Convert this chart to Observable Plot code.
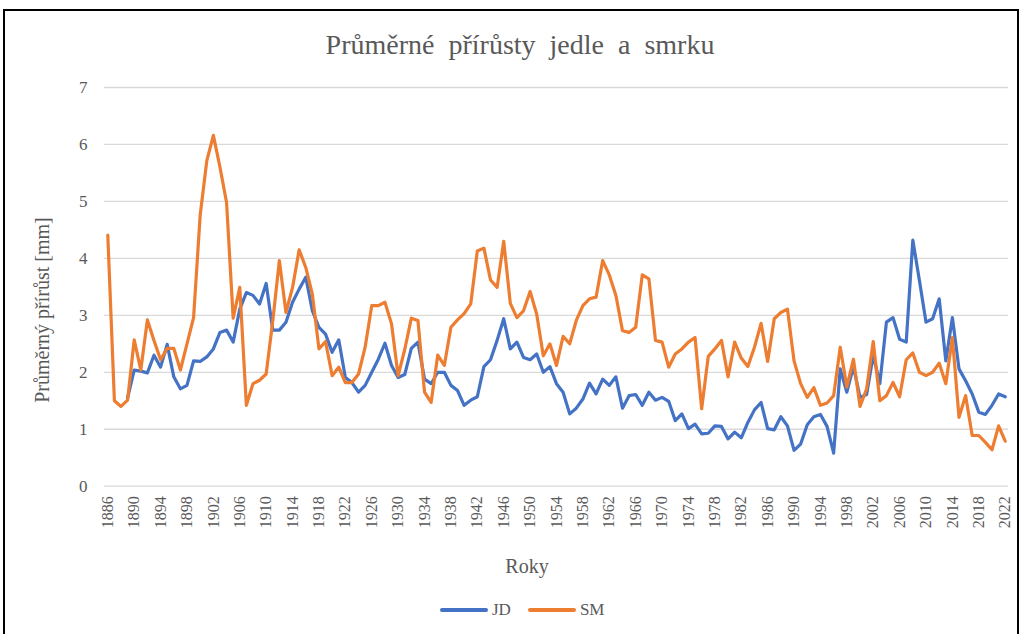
<!DOCTYPE html>
<html>
<head>
<meta charset="utf-8">
<script src="https://cdn.jsdelivr.net/npm/d3@7"></script>
<script src="https://cdn.jsdelivr.net/npm/@observablehq/plot@0.6"></script>
<style>
  html, body { margin: 0; padding: 0; background: #fff; }
  body { width: 1021px; height: 634px; overflow: hidden; position: relative;
         font-family: "Liberation Serif", "Times New Roman", serif; color: #595959; }
  #frame { position: absolute; left: 3px; top: 9px; width: 1016px; height: 700px;
           border: 2px solid #000; box-sizing: border-box; }
  #title { position: absolute; left: 0; width: 1040px; top: 28px; text-align: center;
           font-size: 28px; line-height: 34px; word-spacing: 7px; white-space: nowrap; }
  #ylabel { position: absolute; left: 42px; top: 310px; transform: translate(-50%, -50%) rotate(-90deg);
            font-size: 20px; white-space: nowrap; }
  #xlabel { position: absolute; left: 527px; top: 566px; transform: translate(-50%, -50%);
            font-size: 20px; }
  #chart { position: absolute; left: 0; top: 0; }
  #legend { position: absolute; left: 440px; top: 599px; display: flex; align-items: center;
            font-size: 17px; line-height: 22px; }
  .sw { display: inline-block; width: 48px; height: 4px; border-radius: 2px; margin-right: 4px; }
  .item { display: flex; align-items: center; margin-right: 17px; }
</style>
</head>
<body>
<div id="frame"></div>
<div id="title"></div>
<div id="ylabel"></div>
<div id="xlabel"></div>
<div id="chart"></div>
<div id="legend"></div>
<script>
// ---- data ----
const titleText = "Průměrné přírůsty jedle a smrku";
const yTitle = "Průměrný přírůst [mm]";
const xTitle = "Roky";
const series = ["JD", "SM"];
const colors = ["#4472C4", "#ED7D31"];

const years = d3.range(1886, 2023);
const xTicks = d3.range(1886, 2023, 4);
const yTicks = [0, 1, 2, 3, 4, 5, 6, 7];

// JD (jedle) 1886–2022
const jd = [
  null, null, null, 1.55,
  2.04, 2.02, 1.99, 2.30, 2.09, 2.49, 1.92, 1.71, 1.77, 2.20,   // 1890-1899
  2.19, 2.27, 2.41, 2.70, 2.74, 2.53, 3.11, 3.40, 3.35, 3.20,   // 1900-1909
  3.56, 2.74, 2.74, 2.88, 3.23, 3.46, 3.67, 3.08, 2.79, 2.67,   // 1910-1919
  2.35, 2.57, 1.91, 1.82, 1.65, 1.77, 2.00, 2.23, 2.51, 2.12,   // 1920-1929
  1.91, 1.96, 2.42, 2.53, 1.88, 1.80, 2.00, 2.00, 1.77, 1.68,   // 1930-1939
  1.42, 1.51, 1.57, 2.10, 2.22, 2.56, 2.94, 2.41, 2.53, 2.26,   // 1940-1949
  2.22, 2.32, 2.00, 2.10, 1.80, 1.65, 1.27, 1.37, 1.53, 1.81,   // 1950-1959
  1.62, 1.88, 1.77, 1.92, 1.37, 1.59, 1.61, 1.42, 1.65, 1.51,   // 1960-1969
  1.56, 1.49, 1.15, 1.27, 1.01, 1.09, 0.92, 0.93, 1.06, 1.05,   // 1970-1979
  0.83, 0.95, 0.85, 1.12, 1.34, 1.47, 1.01, 0.99, 1.22, 1.06,   // 1980-1989
  0.63, 0.74, 1.08, 1.22, 1.26, 1.05, 0.58, 2.06, 1.65, 2.10,   // 1990-1999
  1.56, 1.61, 2.30, 1.80, 2.88, 2.96, 2.58, 2.53, 4.32, 3.61,   // 2000-2009
  2.88, 2.94, 3.29, 2.20, 2.96, 2.06, 1.85, 1.62, 1.30, 1.26,   // 2010-2019
  1.42, 1.62, 1.57                                              // 2020-2022
];

// SM (smrk) 1886–2022
const sm = [
  4.41, 1.50, 1.40, 1.51,
  2.57, 2.04, 2.92, 2.56, 2.22, 2.42, 2.42, 2.04, 2.50, 2.96,   // 1890-1899
  4.76, 5.71, 6.16, 5.60, 4.98, 2.95, 3.49, 1.42, 1.80, 1.86,   // 1900-1909
  1.97, 2.90, 3.96, 3.05, 3.49, 4.15, 3.84, 3.37, 2.41, 2.54,   // 1910-1919
  1.94, 2.09, 1.82, 1.82, 1.97, 2.44, 3.17, 3.17, 3.23, 2.85,   // 1920-1929
  1.94, 2.40, 2.95, 2.91, 1.65, 1.47, 2.30, 2.12, 2.79, 2.92,   // 1930-1939
  3.03, 3.20, 4.13, 4.18, 3.62, 3.49, 4.30, 3.21, 2.96, 3.08,   // 1940-1949
  3.42, 3.02, 2.29, 2.50, 2.12, 2.63, 2.50, 2.91, 3.17, 3.29,   // 1950-1959
  3.32, 3.96, 3.71, 3.35, 2.73, 2.70, 2.79, 3.71, 3.64, 2.56,   // 1960-1969
  2.53, 2.09, 2.32, 2.41, 2.53, 2.61, 1.36, 2.28, 2.41, 2.56,   // 1970-1979
  1.92, 2.53, 2.25, 2.10, 2.44, 2.86, 2.19, 2.94, 3.05, 3.11,   // 1980-1989
  2.20, 1.80, 1.56, 1.73, 1.42, 1.46, 1.59, 2.44, 1.74, 2.23,   // 1990-1999
  1.40, 1.71, 2.54, 1.50, 1.59, 1.82, 1.57, 2.22, 2.34, 2.00,   // 2000-2009
  1.94, 2.00, 2.16, 1.80, 2.61, 1.21, 1.59, 0.89, 0.89, 0.77,   // 2010-2019
  0.64, 1.06, 0.79                                              // 2020-2022
];

// ---- build table ----
const valuesBySeries = {JD: jd, SM: sm};
const rows = [];
for (const s of series) {
  years.forEach((yr, i) => rows.push({series: s, year: yr, value: valuesBySeries[s][i]}));
}

// ---- texts ----
document.getElementById("title").textContent = titleText;
document.getElementById("ylabel").textContent = yTitle;
document.getElementById("xlabel").textContent = xTitle;
const legend = document.getElementById("legend");
series.forEach((s, i) => {
  const it = document.createElement("div");
  it.className = "item";
  const sw = document.createElement("span");
  sw.className = "sw";
  sw.style.background = colors[i];
  const t = document.createElement("span");
  t.textContent = s;
  it.appendChild(sw); it.appendChild(t);
  legend.appendChild(it);
});

// ---- chart ----
const chart = Plot.plot({
  width: 1021,
  height: 545,
  marginTop: 87,
  marginBottom: 59.3,
  marginLeft: 104,
  marginRight: 13,
  style: {fontFamily: '"Liberation Serif", "Times New Roman", serif', fontSize: "16px", color: "#595959", background: "transparent"},
  x: {type: "linear", domain: [1885.5, 2022.5]},
  y: {domain: [0, 7]},
  color: {domain: series, range: colors},
  marks: [
    Plot.gridY({ticks: yTicks, stroke: "#d9d9d9", strokeOpacity: 1, strokeWidth: 1.3}),
    Plot.axisY({ticks: yTicks, tickSize: 0, tickPadding: 17, label: null, fontSize: 17,
                tickFormat: d => String(d)}),
    Plot.axisX({ticks: xTicks, tickSize: 0, tickRotate: -90, tickPadding: 10, label: null,
                tickFormat: d => String(d), fontSize: 16}),
    Plot.line(rows, {x: "year", y: "value", z: "series", stroke: "series",
                     strokeWidth: 3.2, strokeLinejoin: "round", strokeLinecap: "round"})
  ]
});
document.getElementById("chart").appendChild(chart);
</script>
</body>
</html>
